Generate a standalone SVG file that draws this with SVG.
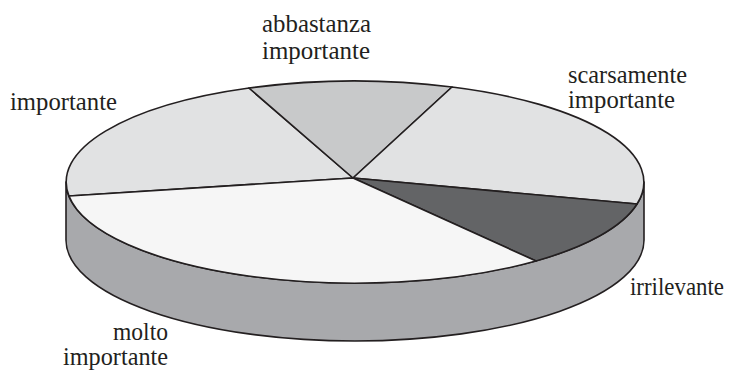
<svg xmlns="http://www.w3.org/2000/svg" width="730" height="371" viewBox="0 0 730 371">
<style>
.o{stroke:#231f20;stroke-width:1.6;stroke-linejoin:round}
</style>
<rect width="730" height="371" fill="#ffffff"/>
<g id="wall">
<path class="o" d="M66,182 A289,101 0 0 0 644,182 L644,240 A289,101 0 0 1 66,240 Z" fill="#a8a9ac"/>
</g>
<g id="connectors"></g>
<g id="slice-importante">
<path class="o" d="M353,178 L69,196 A289,101 0 0 1 249,88 Z" fill="#e1e2e3"/>
</g>
<g id="slice-abbastanza">
<path class="o" d="M353,178 L249,88 A289,101 0 0 1 452,87 Z" fill="#c8c9ca"/>
</g>
<g id="slice-scarsamente">
<path class="o" d="M353,178 L452,87 A289,101 0 0 1 637,204 Z" fill="#e1e2e3"/>
</g>
<g id="slice-irrilevante">
<path class="o" d="M353,178 L637,204 A289,101 0 0 1 536,261 Z" fill="#636466"/>
</g>
<g id="slice-molto">
<path class="o" d="M353,178 L536,261 A289,101 0 0 1 69,196 Z" fill="#f6f6f6"/>
</g>
<g id="labels" font-family="Liberation Serif" font-size="24.5" fill="#231f20">
<text x="262" y="32" textLength="109" lengthAdjust="spacingAndGlyphs">abbastanza</text>
<text x="262" y="59" textLength="108" lengthAdjust="spacingAndGlyphs">importante</text>
<text x="10" y="110" textLength="107" lengthAdjust="spacingAndGlyphs">importante</text>
<text x="568" y="83" textLength="119" lengthAdjust="spacingAndGlyphs">scarsamente</text>
<text x="568" y="108" textLength="107" lengthAdjust="spacingAndGlyphs">importante</text>
<text x="630" y="295" textLength="94" lengthAdjust="spacingAndGlyphs">irrilevante</text>
<text x="113" y="340" textLength="55" lengthAdjust="spacingAndGlyphs">molto</text>
<text x="63" y="365" textLength="105" lengthAdjust="spacingAndGlyphs">importante</text>
</g>
</svg>
